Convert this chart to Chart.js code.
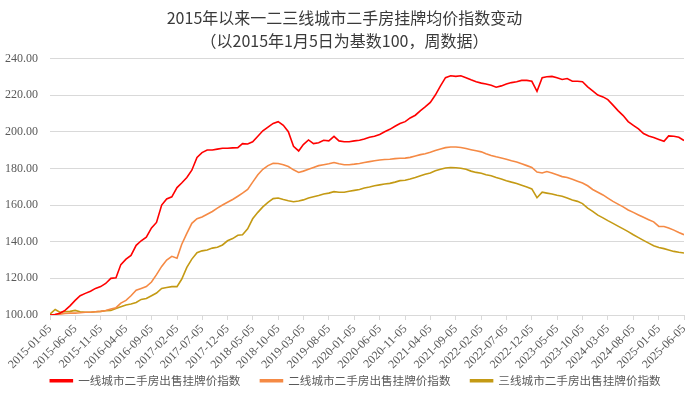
<!DOCTYPE html>
<html>
<head>
<meta charset="utf-8">
<script src="https://cdn.jsdelivr.net/npm/chart.js@4.4.1/dist/chart.umd.min.js"></script>
<style>
html,body{margin:0;padding:0;background:#fff;}
#wrap{width:700px;height:396px;position:relative;}
</style>
</head>
<body>
<div id="wrap"><canvas id="c" width="700" height="396"></canvas></div>
<script>
// Monthly sample dates (5th of each month, 2015-01 .. 2025-06)
const startYear = 2015, startMonth = 1, monthCount = 126;
const sampleDates = [];
for (let i = 0; i < monthCount; i++) {
  const y = startYear + Math.floor((startMonth - 1 + i) / 12);
  const m = (startMonth - 1 + i) % 12 + 1;
  sampleDates.push(y + '-' + String(m).padStart(2, '0') + '-05');
}

const tier1 = [
  100,100.3,101,102.5,105,108,110.5,111.8,113,114.5,115.5,117.2,
  120,120.3,127.5,130.5,132.5,138,140.5,142.5,147.5,150.5,160,163.3,
  164.5,169.5,172,175,179,186,188.6,190,190,190.5,191,191,
  191.2,191.3,193.5,193.3,194.5,197.5,200.5,202.5,204.5,205.5,203.5,200,
  192,189.5,193,195.5,193.5,194,195.3,195,197.5,195,194.5,194.5,
  195,195.3,196,197,197.5,198.5,200,201.3,203,204.5,205.5,207.5,
  209,211.5,213.5,216,220,225,229.5,230.5,230.2,230.5,229.5,228.3,
  227.2,226.5,226,225.3,224.3,225,226,226.8,227.3,228,228,227.5,
  222,229.5,230,230.2,229.5,228.5,229,227.5,227.5,227.3,224.5,222.3,
  220,219,217.5,214.5,211.5,208.8,205.5,203.5,201.5,199,197.7,196.8,
  195.8,194.8,197.7,197.5,197,195.2
];
const tier2 = [
  100,100.3,100.5,100.8,101,101,101.2,101.5,101.5,101.8,102,102.5,
  103.3,104,106.5,108,110.5,113.5,114.5,115.5,118,122,126.5,130,
  132,131,138.5,144.5,150,152.5,153.5,155,156.5,158.3,160,161.5,
  163,164.8,166.5,168.5,172.5,176.5,179.5,181.5,182.8,182.7,182,181,
  179.2,177.8,178.5,179.5,180.5,181.5,182,182.5,183.2,182.5,182,182,
  182.3,182.7,183.2,183.7,184.2,184.6,184.8,185,185.3,185.5,185.6,186,
  186.8,187.5,188,188.8,189.7,190.6,191.3,191.7,191.7,191.4,190.8,190.2,
  189.6,189,188,187,186.3,185.7,185,184.2,183.5,182.5,181.5,180.5,
  178,177.5,178.3,177.5,176.5,175.5,175,174,173,172,170.5,168.5,
  167,165.5,163.8,162,160.5,159,157.3,156,154.6,153.3,152,150.8,
  148.3,148.3,147.5,146.3,145,143.8
];
const tier3 = [
  100.5,103,101.5,101.8,102,102.5,101.8,101.5,101.5,101.8,102,102.3,
  102.5,103.5,104.5,105.5,106,106.8,108.5,109,110.5,112,114.5,115,
  115.5,115.5,119.5,126,130.5,134,135,135.5,136.5,137,138.2,140.5,
  141.7,143.5,143.8,147,152.5,156,159,161.5,163.5,163.8,163,162.3,
  161.8,162.2,162.8,163.8,164.5,165.2,166,166.5,167.3,167,167,167.5,
  168,168.5,169.3,169.8,170.5,171,171.5,171.8,172.5,173.3,173.5,174.2,
  175,176,176.8,177.5,178.7,179.5,180.2,180.5,180.3,180.1,179.5,178.5,
  177.8,177.3,176.5,176,175,174.2,173.3,172.5,171.8,170.8,169.8,168.8,
  164,167,166.5,166,165.3,164.8,163.8,162.8,162,160.8,158.3,156.5,
  154.5,153,151.5,150,148.5,147,145.5,143.8,142.2,140.7,139.2,137.8,
  136.8,136.2,135.5,134.7,134.2,133.8
];

const tickLabels = [
  '2015-01-05','2015-06-05','2015-11-05','2016-04-05','2016-09-05','2017-02-05',
  '2017-07-05','2017-12-05','2018-05-05','2018-10-05','2019-03-05','2019-08-05',
  '2020-01-05','2020-06-05','2020-11-05','2021-04-05','2021-09-05','2022-02-05',
  '2022-07-05','2022-12-05','2023-05-05','2023-10-05','2024-03-05','2024-08-05',
  '2025-01-05','2025-06-05'
];
const seriesNames = ['一线城市二手房出售挂牌价指数','二线城市二手房出售挂牌价指数','三线城市二手房出售挂牌价指数'];
const seriesColors = ['#FF0000','#F58A45','#C49A14'];
const titleLines = ['2015年以来一二三线城市二手房挂牌均价指数变动','（以2015年1月5日为基数100，周数据）'];

function toDays(s) {
  const p = s.split('-').map(Number);
  return (Date.UTC(p[0], p[1]-1, p[2]) - Date.UTC(2015, 0, 5)) / 86400000;
}
const tickDays = tickLabels.map(toDays);
const labelByDay = {};
tickLabels.forEach((l, i) => labelByDay[tickDays[i]] = l);
const xs = sampleDates.map(toDays);

const datasets = [tier1, tier2, tier3].map((vals, i) => ({
  label: seriesNames[i],
  data: vals.map((v, k) => ({x: xs[k], y: v})),
  borderColor: seriesColors[i],
  backgroundColor: seriesColors[i],
  borderWidth: 1.6,
  pointRadius: 0,
  tension: 0,
  fill: false
}));

const serif = "'Liberation Serif', 'Times New Roman', serif";
const cjk = "'Noto Sans CJK SC', 'Noto Sans', sans-serif";

// move the legend row to its place under the axis labels
const legendPlacer = {
  id: 'legendPlacer',
  afterLayout(chart) {
    const lg = chart.legend;
    if (!lg) return;
    const dy = 355 - lg.top, dx = 11;
    lg.top += dy; lg.bottom += dy;
    lg.left += dx; lg.right += dx;
  }
};

new Chart(document.getElementById('c'), {
  type: 'line',
  data: { datasets },
  plugins: [legendPlacer],
  options: {
    responsive: false,
    animation: false,
    layout: { padding: { left: 5, right: 16, top: 4, bottom: -18.6 } },
    plugins: {
      title: {
        display: true,
        text: titleLines,
        color: '#3a3a3a',
        font: { family: cjk, size: 16, weight: 'normal', lineHeight: 1.45 },
        padding: { top: 2, bottom: 6 }
      },
      legend: {
        position: 'bottom',
        labels: {
          boxWidth: 22,
          boxHeight: 2,
          padding: 20,
          color: '#595959',
          font: { family: cjk, size: 11.6 }
        }
      },
      tooltip: { enabled: false }
    },
    scales: {
      x: {
        type: 'linear',
        min: 0,
        max: tickDays[tickDays.length - 1],
        afterBuildTicks: (scale) => { scale.ticks = tickDays.map(v => ({ value: v })); },
        afterFit: (scale) => { scale.height = 58; },
        ticks: {
          autoSkip: false,
          maxRotation: 45,
          minRotation: 45,
          padding: 2,
          color: '#595959',
          font: { family: serif, size: 12 },
          callback: (v) => labelByDay[v] || ''
        },
        grid: { drawOnChartArea: false, drawTicks: true, tickLength: 5, color: '#d9d9d9' },
        border: { display: true, color: '#d9d9d9' }
      },
      y: {
        min: 100,
        max: 240,
        afterFit: (scale) => { scale.width = 45; },
        ticks: {
          stepSize: 20,
          padding: 12,
          color: '#595959',
          font: { family: serif, size: 12 },
          callback: (v) => Number(v).toFixed(2)
        },
        grid: { color: '#d9d9d9', drawTicks: false },
        border: { display: false }
      }
    }
  }
});
</script>
</body>
</html>
